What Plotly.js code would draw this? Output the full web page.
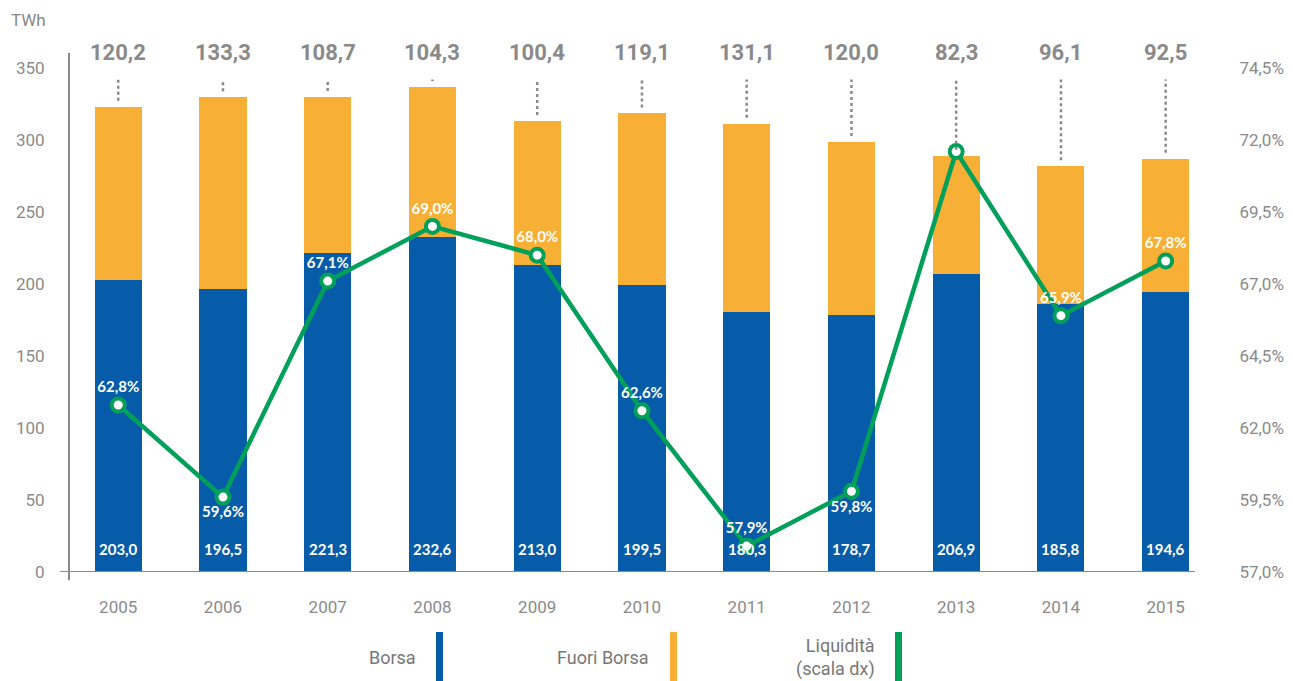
<!DOCTYPE html>
<html><head><meta charset="utf-8">
<script src="https://cdn.plot.ly/plotly-3.0.1.min.js"></script>
<style>html,body{margin:0;padding:0;background:#fff}#chart{width:1293px;height:681px}</style>
</head><body><div id="chart"></div>
<script>
const years = ['2005','2006','2007','2008','2009','2010','2011','2012','2013','2014','2015'];
const borsa = [203.0,196.5,221.3,232.6,213.0,199.5,180.3,178.7,206.9,185.8,194.6];
const fuoriBorsa = [120.2,133.3,108.7,104.3,100.4,119.1,131.1,120.0,82.3,96.1,92.5];
const liquidita = [62.8,59.6,67.1,69.0,68.0,62.6,57.9,59.8,71.6,65.9,67.8];
const leftTicks = [0,50,100,150,200,250,300,350];
const rightTicks = [57.0,59.5,62.0,64.5,67.0,69.5,72.0,74.5];

const BLUE='#075CA9', ORANGE='#F7AF36', GREEN='#00A05B', GRAY='#8A8A8A';
const fmt = v => v.toFixed(1).replace('.', ',');

const yTop = 360.4;
const r2Top = 57 + (yTop/350)*17.5;

const traces = [
  {type:'bar', x:years, y:borsa, name:'Borsa', marker:{color:BLUE}, width:0.45, hoverinfo:'none'},
  {type:'bar', x:years, y:fuoriBorsa, name:'Fuori Borsa', marker:{color:ORANGE}, width:0.45, hoverinfo:'none'},
  {type:'scatter', mode:'lines+markers+text', x:years, y:liquidita, yaxis:'y2', name:'Liquidità',
   line:{color:GREEN, width:4.5},
   marker:{size:13, color:'#fff', line:{color:GREEN, width:4}},
   text: liquidita.map(v=>fmt(v)+'%'),
   textposition: liquidita.map(v=> v<60 && v>58.5 ? 'bottom center' : 'top center'),
   textfont:{family:'Lato, sans-serif', size:15, color:'#fff', weight:700},
   cliponaxis:false, hoverinfo:'none'}
];

const annotations = [];
const shapes = [];
years.forEach((yr,i)=>{
  const total = borsa[i]+fuoriBorsa[i];
  annotations.push({x:i, y:16, xref:'x', yref:'y', text:fmt(borsa[i]), showarrow:false,
    font:{family:'Lato, sans-serif', size:15, color:'#fff', weight:700}});
  annotations.push({x:i, y:350.5, xref:'x', yref:'y', text:fmt(fuoriBorsa[i]), showarrow:false, yanchor:'bottom',
    font:{family:'Roboto, "Open Sans", sans-serif', size:22, color:GRAY, weight:700}});
  const top = 342, bot = total + 4;
  if (top > bot) {
    shapes.push({type:'line', xref:'x', yref:'y', x0:i, x1:i, y0:bot, y1:top,
      line:{color:GRAY, width:2.5, dash:'dot'}});
  }
});
// axis lines
shapes.push({type:'line', xref:'paper', yref:'y', x0:-0.008, x1:1, y0:0, y1:0, line:{color:GRAY, width:2}});
shapes.push({type:'line', xref:'paper', yref:'paper', x0:0, x1:0, y0:-0.016, y1:1, line:{color:GRAY, width:2}});

// custom legend
const legendItems = [
  {label:'Borsa', color:BLUE, textX:418, barX:439},
  {label:'Fuori Borsa', color:ORANGE, textX:651, barX:673},
  {label:'Liquidità<br>(scala dx)', color:GREEN, textX:877, barX:898}
];
const W=1293, H=681, ml=69, mr=98, mt=53, mb=109;
const pw=W-ml-mr, ph=H-mt-mb;
const px = x => (x-ml)/pw;
const py = y => (H-mb-y)/ph;
legendItems.forEach(it=>{
  annotations.push({xref:'paper', yref:'paper', x:px(it.textX), y:py(657), xanchor:'right', yanchor:'middle',
    text:it.label, showarrow:false, align:'right',
    font:{family:'Roboto, "Liberation Sans", sans-serif', size:18, color:'#777'}});
  shapes.push({type:'rect', xref:'paper', yref:'paper', x0:px(it.barX-3), x1:px(it.barX+4), y0:py(681), y1:py(632),
    fillcolor:it.color, line:{width:0}});
});
annotations.push({xref:'paper', yref:'paper', x:px(9), y:py(20), xanchor:'left', yanchor:'middle', text:'TWh',
  showarrow:false, font:{family:'Roboto, "Liberation Sans", sans-serif', size:17, color:'#888'}});

const layout = {
  width:W, height:H, margin:{l:ml, r:mr, t:mt, b:mb},
  paper_bgcolor:'#fff', plot_bgcolor:'#fff',
  separators:',.', barmode:'stack', showlegend:false,
  xaxis:{type:'category', range:[-0.47,10.28], showgrid:false, zeroline:false, showline:false,
    ticks:'outside', ticklen:20, tickcolor:'rgba(0,0,0,0)',
    tickfont:{family:'Roboto, "Liberation Sans", sans-serif', size:17, color:GRAY}},
  yaxis:{range:[0,yTop], tickvals:leftTicks, showgrid:false, zeroline:false, showline:false,
    ticks:'outside', ticklen:20, tickcolor:'rgba(0,0,0,0)',
    tickfont:{family:'Roboto, "Liberation Sans", sans-serif', size:17, color:GRAY}},
  yaxis2:{overlaying:'y', side:'right', range:[57,r2Top], tickmode:'array', tickvals:rightTicks,
    ticktext:rightTicks.map(v=>fmt(v)+'%'),
    showgrid:false, zeroline:false, showline:false,
    ticks:'outside', ticklen:40, tickcolor:'rgba(0,0,0,0)',
    tickfont:{family:'Roboto, "Liberation Sans", sans-serif', size:17, color:GRAY}},
  annotations:annotations, shapes:shapes
};
Plotly.newPlot('chart', traces, layout, {displayModeBar:false, staticPlot:true});
</script>
</body></html>
